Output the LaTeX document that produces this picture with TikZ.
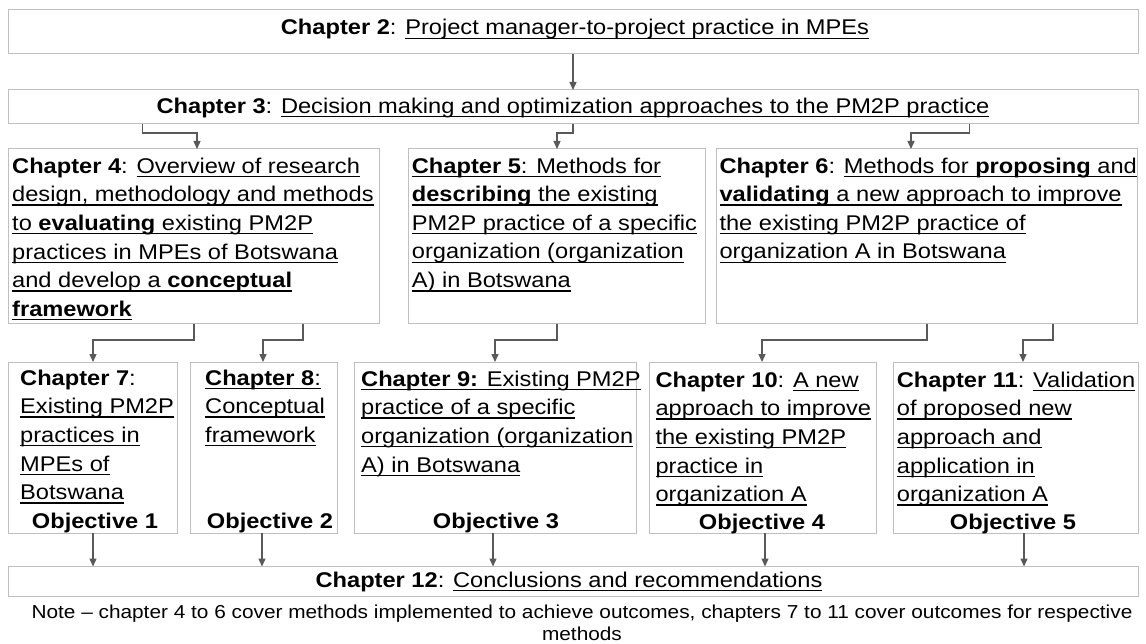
\documentclass[tikz,border=0pt]{standalone}
\usepackage{fontspec}
\setmainfont{Liberation Sans}[FakeStretch=1.11]
\usetikzlibrary{arrows.meta}
\definecolor{boxgray}{HTML}{BFBFBF}
\definecolor{linegray}{HTML}{595959}
\newsavebox{\myulbox}
\newcommand{\myul}[1]{\sbox{\myulbox}{#1}\rlap{\rule[-4pt]{\wd\myulbox}{1.4pt}}\usebox{\myulbox}}
\newcommand{\mystrut}{\rule{0pt}{20pt}}
\begin{document}
\begin{tikzpicture}[x=1pt,y=-1pt,
  box/.style={draw=boxgray, line width=1pt, inner sep=0pt, outer sep=0pt, anchor=north west, rectangle},
  txt/.style={anchor=north west, inner sep=0pt, align=left, font=\fontsize{21.3}{28.6}\selectfont},
  ctr/.style={anchor=base, inner sep=0pt, font=\fontsize{21.3}{28.6}\selectfont},
  conn/.style={draw=linegray, line width=1.3pt, -{Triangle[width=7pt,length=8pt]}}]
\useasboundingbox[fill=white] (0,0) rectangle (1146,644);
% boxes
\node[box, minimum width=1130pt, minimum height=44pt] (c2) at (8,10) {};
\node[box, minimum width=1130pt, minimum height=34pt] (c3) at (8,90) {};
\node[box, minimum width=371pt, minimum height=175pt] (c4) at (8,149) {};
\node[box, minimum width=297pt, minimum height=175pt] (c5) at (408,149) {};
\node[box, minimum width=421pt, minimum height=175pt] (c6) at (716,149) {};
\node[box, minimum width=169pt, minimum height=171pt] (c7) at (8,362) {};
\node[box, minimum width=147pt, minimum height=171pt] (c8) at (190,362) {};
\node[box, minimum width=282pt, minimum height=171pt] (c9) at (354,362) {};
\node[box, minimum width=227pt, minimum height=171pt] (c10) at (649,362) {};
\node[box, minimum width=245pt, minimum height=171pt] (c11) at (893,362) {};
\node[box, minimum width=1130pt, minimum height=30pt] (c12) at (8,566.5) {};
% texts
\node[ctr] (t2) at (575,35) {\textbf{Chapter 2}: \myul{Project manager-to-project practice in MPEs}};
\node[ctr] (t3) at (573,113.3) {\textbf{Chapter 3}: \myul{Decision making and optimization approaches to the PM2P practice}};
\node[txt] (t4) at (12,153) {\mystrut\textbf{Chapter 4}: \myul{Overview of research}\\
\myul{design, methodology and methods}\\
\myul{to \textbf{evaluating} existing PM2P}\\
\myul{practices in MPEs of Botswana}\\
\myul{and develop a \textbf{conceptual}}\\
\myul{\textbf{framework}}};
\node[txt] (t5) at (411.7,153) {\mystrut\myul{\textbf{Chapter 5}: Methods for}\\
\myul{\textbf{describing} the existing}\\
\myul{PM2P practice of a specific}\\
\myul{organization (organization}\\
\myul{A) in Botswana}};
\node[txt] (t6) at (719.3,153) {\mystrut\textbf{Chapter 6}: \myul{Methods for \textbf{proposing} and}\\
\myul{\textbf{validating} a new approach to improve}\\
\myul{the existing PM2P practice of}\\
\myul{organization A in Botswana}};
\node[txt] (t7) at (20,365) {\mystrut\textbf{Chapter 7}:\\
\myul{Existing PM2P}\\
\myul{practices in}\\
\myul{MPEs of}\\
\myul{Botswana}};
\node[txt] (t8) at (205,365) {\mystrut\myul{\textbf{Chapter 8}:}\\
\myul{Conceptual}\\
\myul{framework}};
\node[txt] (t9) at (361,366) {\mystrut\myul{\textbf{Chapter 9:} Existing PM2P}\\
\myul{practice of a specific}\\
\myul{organization (organization}\\
\myul{A) in Botswana}};
\node[txt] (t10) at (655.3,367) {\mystrut\textbf{Chapter 10}: \myul{A new}\\
\myul{approach to improve}\\
\myul{the existing PM2P}\\
\myul{practice in}\\
\myul{organization A}};
\node[txt] (t11) at (896.7,367) {\mystrut\textbf{Chapter 11}: \myul{Validation}\\
\myul{of proposed new}\\
\myul{approach and}\\
\myul{application in}\\
\myul{organization A}};
\node[ctr] (o1) at (95,528) {\textbf{Objective 1}};
\node[ctr] (o2) at (270,528) {\textbf{Objective 2}};
\node[ctr] (o3) at (496,528) {\textbf{Objective 3}};
\node[ctr] (o4) at (762,529) {\textbf{Objective 4}};
\node[ctr] (o5) at (1013,529) {\textbf{Objective 5}};
\node[ctr] (t12) at (569,587.3) {\textbf{Chapter 12}: \myul{Conclusions and recommendations}};
\node[anchor=north, inner sep=0pt, align=center, font=\fontsize{18.75}{22.4}\selectfont] (note) at (582,603.3)
  {\rule{0pt}{15pt}Note – chapter 4 to 6 cover methods implemented to achieve outcomes, chapters 7 to 11 cover outcomes for respective\\methods};
% connectors
\draw[conn] (c2.south) -- (c3.north);
\draw[conn] ([xshift=134.5pt]c3.south west) -- ++(0,9) -| ([xshift=189pt]c4.north west);
\draw[conn] (c3.south) -- ++(0,9) -| ([xshift=149pt]c5.north west);
\draw[conn] ([xshift=961.5pt]c3.south west) -- ++(0,9) -| ([xshift=195pt]c6.north west);
\draw[conn] ([xshift=186pt]c4.south west) -- ++(0,16) -| ([xshift=85pt]c7.north west);
\draw[conn] ([xshift=295pt]c4.south west) -- ++(0,16) -| ([xshift=73pt]c8.north west);
\draw[conn] ([xshift=149pt]c5.south west) -- ++(0,16) -| ([xshift=141pt]c9.north west);
\draw[conn] ([xshift=211pt]c6.south west) -- ++(0,16) -| ([xshift=113pt]c10.north west);
\draw[conn] ([xshift=337pt]c6.south west) -- ++(0,16) -| ([xshift=130pt]c11.north west);
\draw[conn] ([xshift=85pt]c7.south west) -- ([xshift=85pt]c12.north west);
\draw[conn] ([xshift=72pt]c8.south west) -- ([xshift=254pt]c12.north west);
\draw[conn] ([xshift=139pt]c9.south west) -- ([xshift=485pt]c12.north west);
\draw[conn] ([xshift=116pt]c10.south west) -- ([xshift=757pt]c12.north west);
\draw[conn] ([xshift=131pt]c11.south west) -- ([xshift=1016pt]c12.north west);
\end{tikzpicture}
\end{document}
